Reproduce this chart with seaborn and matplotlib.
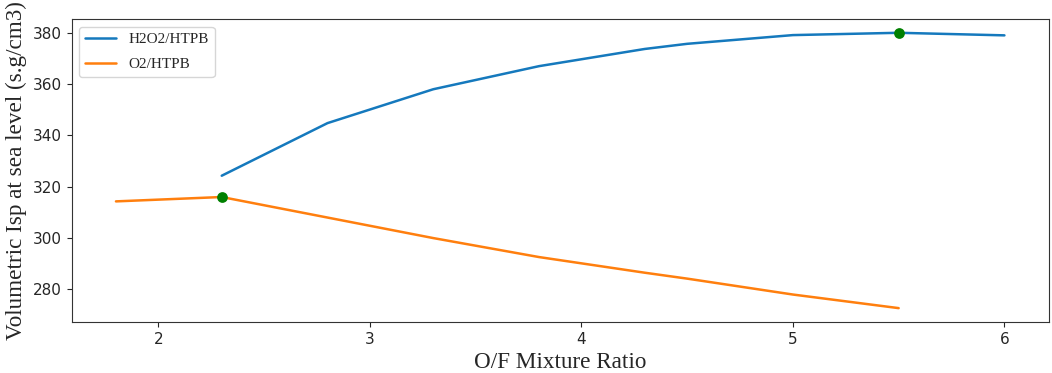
import matplotlib
matplotlib.use("Agg")
import matplotlib.pyplot as plt
import seaborn as sns
import pandas as pd

h2o2_of = [2.3, 2.8, 3.3, 3.8, 4.3, 4.5, 5.0, 5.5, 6.0]
h2o2_isp = [324.3, 344.8, 358.0, 367.0, 373.7, 375.7, 379.1, 380.0, 379.0]
o2_of = [1.8, 2.3, 2.8, 3.3, 3.8, 4.3, 4.5, 5.0, 5.5]
o2_isp = [314.3, 316.0, 308.0, 300.0, 292.6, 286.5, 284.2, 278.0, 272.7]
opt_of = [2.3, 5.5]
opt_isp = [316.0, 380.0]
labels = ["H2O2/HTPB", "O2/HTPB"]

sns.set_style("ticks")
plt.rcParams["font.family"] = ["DejaVu Sans"]

df = pd.concat([
    pd.DataFrame({"of": h2o2_of, "isp": h2o2_isp, "prop": labels[0]}),
    pd.DataFrame({"of": o2_of, "isp": o2_isp, "prop": labels[1]}),
])

fig = plt.figure(figsize=(10.52, 3.73), dpi=100)
ax = fig.add_axes([0.068, 0.137, 0.929, 0.812])
sns.lineplot(data=df, x="of", y="isp", hue="prop", palette=["#1579bd", "#ff7f0e"],
             linewidth=1.8, ax=ax, sort=False)
sns.scatterplot(x=opt_of, y=opt_isp, color="green", s=60, zorder=5, ax=ax,
                edgecolor="green", linewidth=0)

ax.set_xticks([2, 3, 4, 5, 6])
ax.set_yticks([280, 300, 320, 340, 360, 380])
ax.tick_params(labelsize=11)
ax.set_xlabel("O/F Mixture Ratio", fontsize=16.7, family="Liberation Serif")
ax.set_ylabel("Volumetric Isp at sea level (s.g/cm3)", fontsize=16.7, family="Liberation Serif")
leg = ax.legend(loc="upper left", prop={"family": "Liberation Serif", "size": 11},
                frameon=True, labelspacing=0.7)
for sp in ax.spines.values():
    sp.set_visible(True)
    sp.set_color("#333333")

fig.savefig("out.png", dpi=100)
